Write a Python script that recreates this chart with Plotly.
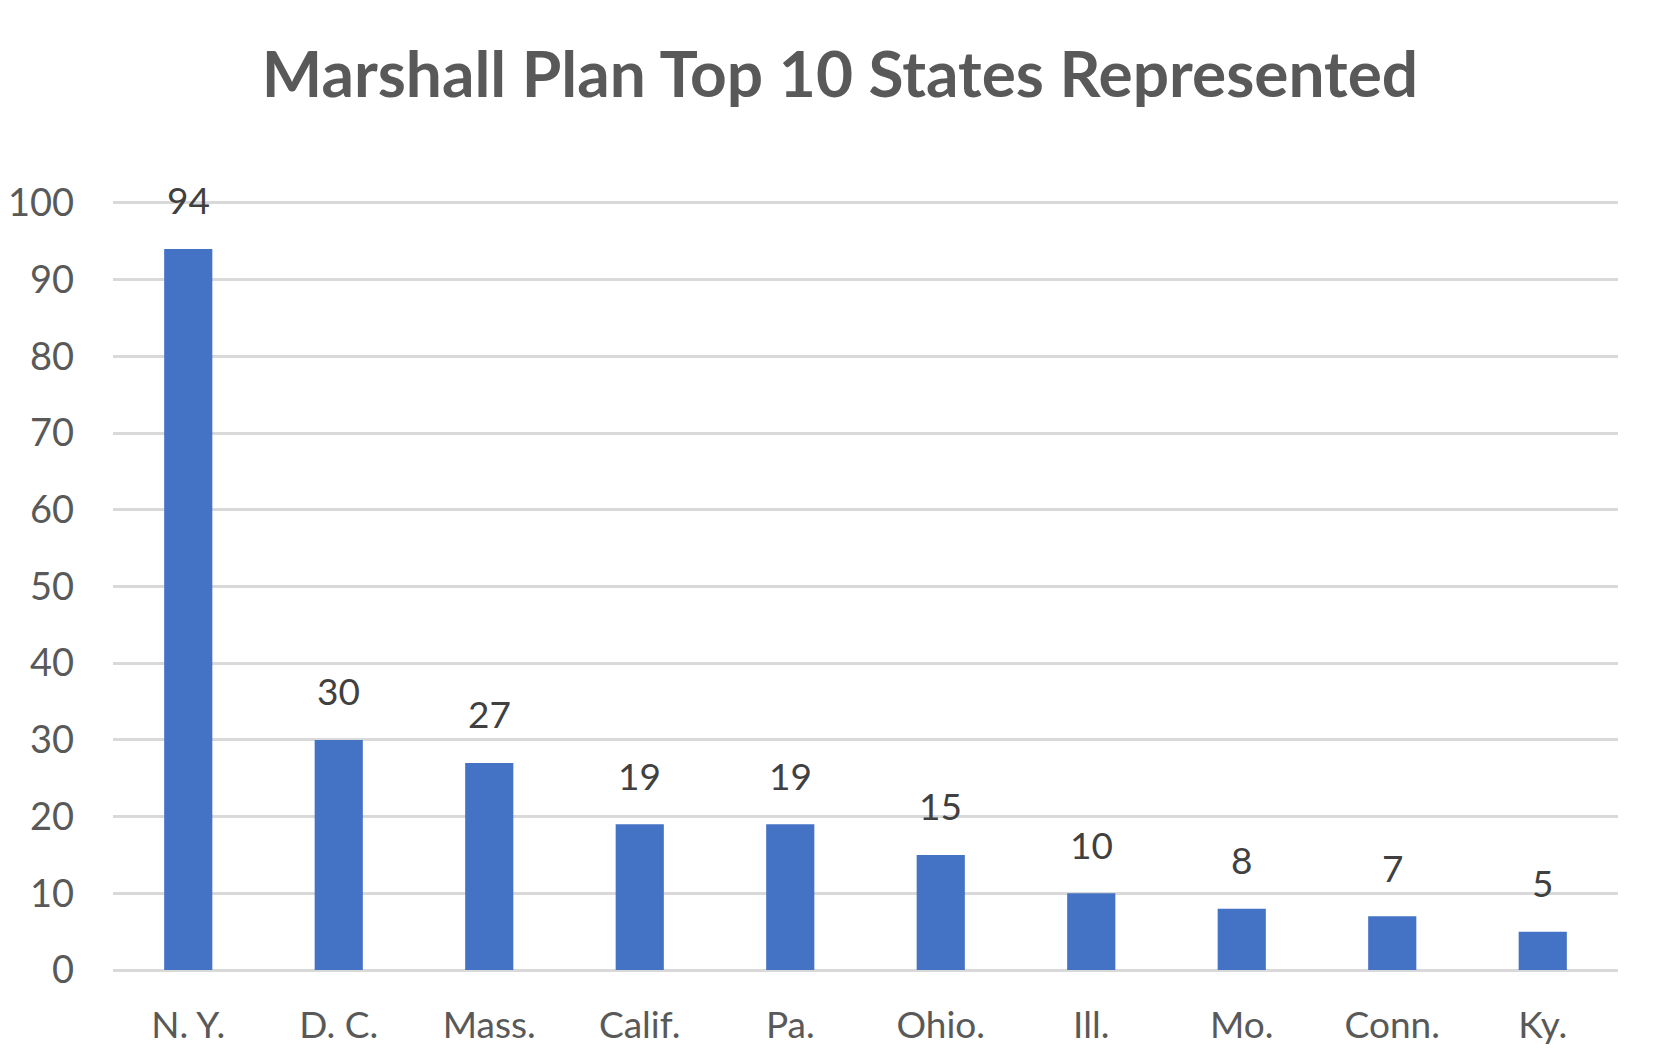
import plotly.graph_objects as go

states = ["N. Y.", "D. C.", "Mass.", "Calif.", "Pa.", "Ohio.", "Ill.", "Mo.", "Conn.", "Ky."]
counts = [94, 30, 27, 19, 19, 15, 10, 8, 7, 5]
y_ticks = [0, 10, 20, 30, 40, 50, 60, 70, 80, 90, 100]

FONT = "Lato, Calibri, Open Sans, sans-serif"
GRID = "#d9d9d9"

fig = go.Figure(go.Bar(
    x=states, y=counts,
    marker=dict(color="#4472c4", line=dict(width=0)),
    hoverinfo="skip",
))

for s, c in zip(states, counts):
    fig.add_annotation(x=s, y=c, text=str(c), showarrow=False,
                       yanchor="middle", yshift=49,
                       font=dict(family=FONT, size=37, color="#404040"))

fig.update_layout(
    width=1664, height=1047,
    margin=dict(l=105, r=54, t=193, b=85),
    paper_bgcolor="white", plot_bgcolor="white",
    bargap=0.68,
    showlegend=False,
    title=dict(text="<b>Marshall Plan Top 10 States Represented</b>",
               x=0.5, xanchor="center", y=0.936, yanchor="middle",
               font=dict(family=FONT, size=64, color="#595959")),
    xaxis=dict(showgrid=False, showline=False, ticks="", automargin=False,
               tickfont=dict(family=FONT, size=37, color="#595959"),
               ticklabelstandoff=30),
    yaxis=dict(range=[0, 100.25], tickvals=y_ticks, showgrid=True,
               gridcolor=GRID, gridwidth=3, zeroline=True,
               zerolinecolor=GRID, zerolinewidth=3, showline=False,
               ticks="", automargin=False,
               tickfont=dict(family=FONT, size=38, color="#595959"),
               ticklabelstandoff=38),
)

fig.write_html("out.html")
